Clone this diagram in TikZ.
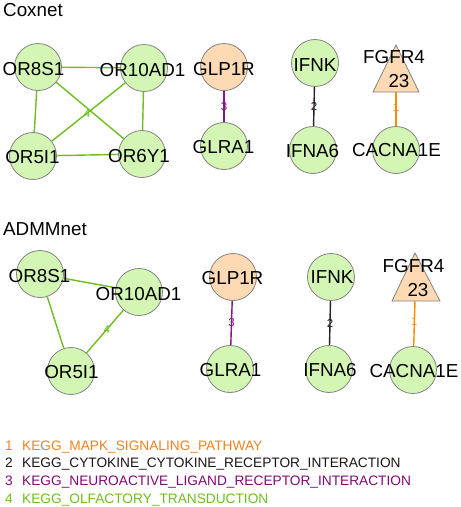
\documentclass[tikz,border=0pt]{standalone}
\usepackage{fontspec}
\setmainfont{Liberation Sans}
\definecolor{gfill}{RGB}{212,246,180}
\definecolor{pfill}{RGB}{253,217,180}
\definecolor{nborder}{RGB}{130,130,130}
\definecolor{egreen}{RGB}{110,190,30}
\definecolor{eorange}{RGB}{255,140,0}
\definecolor{epurple}{RGB}{136,20,136}
\definecolor{edark}{RGB}{45,30,30}
\definecolor{lorange}{RGB}{240,130,30}
\definecolor{ldark}{RGB}{30,20,20}
\definecolor{lpurple}{RGB}{128,10,115}
\pgfdeclarelayer{edges}
\pgfsetlayers{edges,main}
\tikzset{
  gnode/.style={circle, draw=nborder, line width=0.8pt, fill=gfill, minimum size=47pt, inner sep=0pt},
  pnode/.style={gnode, fill=pfill},
  tri/.style={draw=nborder, line width=0.8pt, fill=pfill},
  lab/.style={font=\fontsize{18.8}{20}\selectfont, inner sep=0pt, anchor=base},
  ttl/.style={font=\fontsize{18.8}{20}\selectfont, inner sep=0pt, anchor=base west},
  elab/.style={font=\fontsize{11.5}{12}\selectfont, inner sep=0pt},
  gedge/.style={draw=egreen, line width=1.4pt},
  oedge/.style={draw=eorange, line width=1.4pt},
  pedge/.style={draw=epurple, line width=1.4pt},
  dedge/.style={draw=edark, line width=1.4pt},
  leg/.style={font=\fontsize{13.7}{15}\selectfont, inner sep=0pt, anchor=base west},
}
\begin{document}
\begin{tikzpicture}[x=1pt,y=-1pt]
\useasboundingbox (0,0) rectangle (461,507);

% titles
\node[ttl] (t1) at (3,16) {Coxnet};
\node[ttl] (t2) at (3,235) {ADMMnet};

% ---------- Coxnet ----------
\node[gnode] (a8) at (38,67) {};
\node[gnode] (a10) at (144,68) {};
\node[gnode] (a5) at (33,156) {};
\node[gnode] (a6) at (142,154) {};
\node[pnode] (aglp) at (224,67) {};
\node[gnode] (aglr) at (224,146) {};
\node[gnode] (aifk) at (315,63) {};
\node[gnode] (aifa) at (313,150) {};
\node[gnode] (acac) at (396,150) {};
\draw[tri] (396,45) -- (419,92) -- (373,92) -- cycle;
\coordinate (afg) at (396,92);

\node[lab] (la8) at (33.5,75) {OR8S1};
\node[lab] (la10) at (142.5,76) {OR10AD1};
\node[lab] (la5) at (32.5,163) {OR5I1};
\node[lab] (la6) at (139,162) {OR6Y1};
\node[lab] (laglp) at (224,75) {GLP1R};
\node[lab] (laglr) at (223.5,153) {GLRA1};
\node[lab] (laifk) at (315,71) {IFNK};
\node[lab] (laifa) at (312.5,157) {IFNA6};
\node[lab] (lafg) at (394,63) {FGFR4};
\node[lab] (lafgn) at (399,87) {23};
\node[lab] (lacac) at (396.5,156) {CACNA1E};

\begin{pgfonlayer}{edges}
\draw[gedge] (a8) -- (a10);
\draw[gedge] (a8) -- (a5);
\draw[gedge] (a10) -- (a6);
\draw[gedge] (a5) -- (a6);
\draw[gedge] (a8) -- (a6);
\draw[gedge] (a5) -- node[elab, text=egreen, pos=0.48] (e4a) {4} (a10);
\draw[pedge] (aglp) -- node[elab, text=epurple] (e3a) {3} (aglr);
\draw[dedge] (aifk) -- node[elab, text=edark] (e2a) {2} (aifa);
\draw[oedge] (afg) -- node[elab, text=eorange, pos=0.45] (e1a) {1} (acac);
\end{pgfonlayer}

% ---------- ADMMnet ----------
\node[gnode] (b8) at (40,274) {};
\node[gnode] (b10) at (139,292) {};
\node[gnode] (b5) at (71,371) {};
\node[pnode] (bglp) at (233,277) {};
\node[gnode] (bglr) at (230,369) {};
\node[gnode] (bifk) at (331,277) {};
\node[gnode] (bifa) at (329,369) {};
\node[gnode] (bcac) at (413,370) {};
\draw[tri] (415,253) -- (440,301) -- (392,301) -- cycle;
\coordinate (bfg) at (415,301);

\node[lab] (lb8) at (39.5,282) {OR8S1};
\node[lab] (lb10) at (138.5,300) {OR10AD1};
\node[lab] (lb5) at (71.5,378) {OR5I1};
\node[lab] (lbglp) at (232.5,284) {GLP1R};
\node[lab] (lbglr) at (230.5,376) {GLRA1};
\node[lab] (lbifk) at (332,283) {IFNK};
\node[lab] (lbifa) at (330,376) {IFNA6};
\node[lab] (lbfg) at (413.5,272) {FGFR4};
\node[lab] (lbfgn) at (418,296) {23};
\node[lab] (lbcac) at (414,377) {CACNA1E};

\begin{pgfonlayer}{edges}
\draw[gedge] (b8) -- (b10);
\draw[gedge] (b8) -- (b5);
\draw[gedge] (b5) -- node[elab, text=egreen, pos=0.55] (e4b) {4} (b10);
\draw[pedge] (bglp) -- node[elab, text=epurple] (e3b) {3} (bglr);
\draw[dedge] (bifk) -- node[elab, text=edark] (e2b) {2} (bifa);
\draw[oedge] (bfg) -- node[elab, text=eorange, pos=0.45] (e1b) {1} (bcac);
\end{pgfonlayer}

% ---------- legend ----------
\node[leg, text=lorange] (n1) at (5,450) {1};
\node[leg, text=lorange] (k1) at (22,450) {KEGG\_MAPK\_SIGNALING\_PATHWAY};
\node[leg, text=ldark] (n2) at (5,467.5) {2};
\node[leg, text=ldark] (k2) at (22,467.5) {KEGG\_CYTOKINE\_CYTOKINE\_RECEPTOR\_INTERACTION};
\node[leg, text=lpurple] (n3) at (5,485) {3};
\node[leg, text=lpurple] (k3) at (22,485) {KEGG\_NEUROACTIVE\_LIGAND\_RECEPTOR\_INTERACTION};
\node[leg, text=egreen] (n4) at (5,503) {4};
\node[leg, text=egreen] (k4) at (22,503) {KEGG\_OLFACTORY\_TRANSDUCTION};
\end{tikzpicture}
\end{document}
